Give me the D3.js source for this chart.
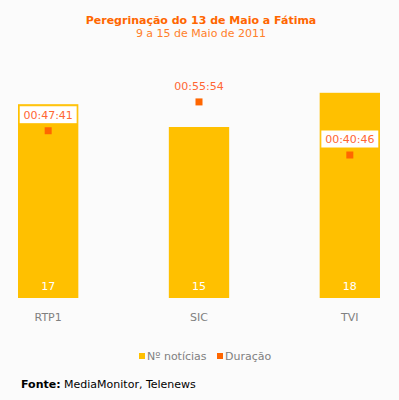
<!DOCTYPE html>
<html>
<head>
<meta charset="utf-8">
<script src="https://cdn.jsdelivr.net/npm/d3@7"></script>
<style>
  body { margin: 0; background: #fbfbfb; }
  svg { display: block; font-family: "DejaVu Sans", Verdana, sans-serif; }
</style>
</head>
<body>
<figure id="chart" style="margin:0"></figure>
<script>
// chart values
const channels = ['RTP1', 'SIC', 'TVI'];
const newsCount = [17, 15, 18];
const duration = ['00:47:41', '00:55:54', '00:40:46'];

const width = 399, height = 400;
const barColor = '#ffc000', markColor = '#ff6600';

const toSec = s => s.split(':').reduce((a, v) => a * 60 + (+v), 0);

const svg = d3.select('#chart').append('svg')
  .attr('width', width)
  .attr('height', height);

svg.append('rect').attr('width', width).attr('height', height).attr('fill', '#fbfbfb');

// titles
svg.append('text')
  .attr('x', 201).attr('y', 24)
  .attr('text-anchor', 'middle')
  .attr('font-size', 11).attr('font-weight', 'bold')
  .attr('fill', '#ff6600')
  .text('Peregrinação do 13 de Maio a Fátima');
svg.append('text')
  .attr('x', 201).attr('y', 37)
  .attr('text-anchor', 'middle')
  .attr('font-size', 11)
  .attr('fill', '#ff7f2a')
  .text('9 a 15 de Maio de 2011');

// scales
const x = d3.scaleBand().domain(channels).range([18, 380]).paddingInner(0.6).paddingOuter(0);
const y = d3.scaleLinear().domain([0, 20]).range([298, 70]);
const y2 = d3.scaleLinear().domain([0, 3900]).range([298, 70]);

const data = channels.map((c, i) => ({ c, n: newsCount[i], d: duration[i], s: toSec(duration[i]) }));

// bars
svg.selectAll('rect.bar').data(data).enter().append('rect')
  .attr('class', 'bar')
  .attr('x', d => x(d.c))
  .attr('y', d => y(d.n))
  .attr('width', x.bandwidth())
  .attr('height', d => y(0) - y(d.n))
  .attr('fill', barColor);

svg.selectAll('text.count').data(data).enter().append('text')
  .attr('class', 'count')
  .attr('x', d => x(d.c) + x.bandwidth() / 2)
  .attr('y', y(0) - 8)
  .attr('text-anchor', 'middle')
  .attr('font-size', 11)
  .attr('fill', '#fff')
  .text(d => d.n);

// category axis labels
svg.selectAll('text.cat').data(data).enter().append('text')
  .attr('class', 'cat')
  .attr('x', d => x(d.c) + x.bandwidth() / 2)
  .attr('y', 321)
  .attr('text-anchor', 'middle')
  .attr('font-size', 11)
  .attr('fill', '#808080')
  .text(d => d.c);

// duration markers
svg.selectAll('rect.mark').data(data).enter().append('rect')
  .attr('class', 'mark')
  .attr('x', d => x(d.c) + x.bandwidth() / 2 - 3.5)
  .attr('y', d => y2(d.s) - 3.5)
  .attr('width', 7).attr('height', 7)
  .attr('fill', markColor);

// duration labels (boxed when over the bar)
const lab = svg.selectAll('g.dlab').data(data).enter().append('g')
  .attr('class', 'dlab')
  .attr('transform', d => `translate(${x(d.c) + x.bandwidth() / 2},${y2(d.s) - 16})`);

lab.filter(d => y2(d.s) - 16 > y(d.n))
  .append('rect')
  .attr('x', -29).attr('y', -9)
  .attr('width', 58).attr('height', 18)
  .attr('fill', '#fff')
  .attr('stroke', barColor).attr('stroke-width', 1);

lab.append('text')
  .attr('y', 4)
  .attr('text-anchor', 'middle')
  .attr('font-size', 11)
  .attr('fill', '#ff6633')
  .text(d => d.d);

// legend
const legend = [
  { label: 'Nº notícias', color: barColor, x: 139 },
  { label: 'Duração', color: markColor, x: 217 }
];
const lg = svg.selectAll('g.lg').data(legend).enter().append('g')
  .attr('class', 'lg')
  .attr('transform', d => `translate(${d.x},356)`);
lg.append('rect').attr('x', 0).attr('y', -3).attr('width', 6).attr('height', 6).attr('fill', d => d.color);
lg.append('text').attr('x', 8).attr('y', 4)
  .attr('font-size', 11).attr('fill', '#808080')
  .text(d => d.label);

// source
const src = svg.append('text')
  .attr('x', 21).attr('y', 388)
  .attr('font-size', 11).attr('fill', '#000');
src.append('tspan').attr('font-weight', 'bold').text('Fonte:');
src.append('tspan').text(' MediaMonitor, Telenews');
</script>
</body>
</html>
